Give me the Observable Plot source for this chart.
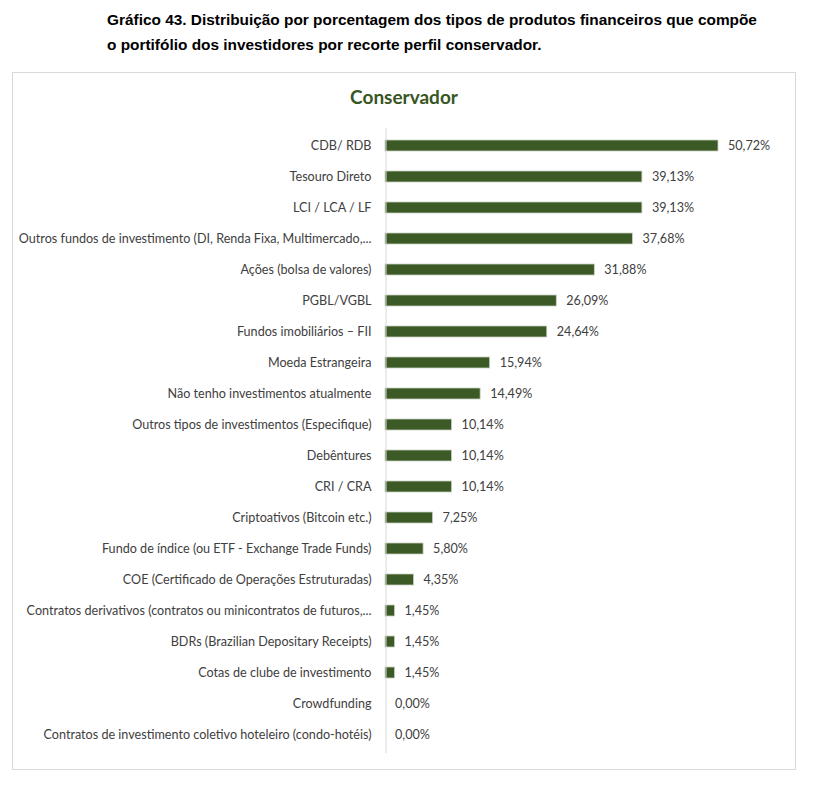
<!DOCTYPE html>
<html>
<head>
<meta charset="utf-8">
<script src="https://cdn.jsdelivr.net/npm/d3@7"></script>
<script src="https://cdn.jsdelivr.net/npm/@observablehq/plot@0.6"></script>
<style>
  html, body { margin: 0; padding: 0; background: #fff; }
  #page { position: relative; width: 824px; height: 794px; overflow: hidden; }
  #header { position: absolute; left: 107px; top: 7px; width: 710px;
    font-family: "Liberation Sans", Arial, sans-serif; font-weight: bold; font-size: 15.4px;
    line-height: 25px; color: #000; }
  #box { position: absolute; left: 12px; top: 72px; width: 782px; height: 696px;
    border: 1px solid #d9d9d9; box-sizing: content-box; }
  #ctitle { position: absolute; left: 12px; top: 85px; width: 784px; text-align: center;
    font-family: Lato, "Open Sans", sans-serif; font-weight: bold; font-size: 19px; color: #375623; }
  #chart { position: absolute; left: 0; top: 0; }
</style>
</head>
<body>
<div id="page">
  <div id="header">Gráfico 43. Distribuição por porcentagem dos tipos de produtos financeiros que compõe<br>o portifólio dos investidores por recorte perfil conservador.</div>
  <div id="box"></div>
  <div id="ctitle">Conservador</div>
  <div id="chart"></div>
</div>
<script>
const categories = [
  "CDB/ RDB",
  "Tesouro Direto",
  "LCI / LCA / LF",
  "Outros fundos de investimento (DI, Renda Fixa, Multimercado,...",
  "Ações (bolsa de valores)",
  "PGBL/VGBL",
  "Fundos imobiliários – FII",
  "Moeda Estrangeira",
  "Não tenho investimentos atualmente",
  "Outros tipos de investimentos (Especifique)",
  "Debêntures",
  "CRI / CRA",
  "Criptoativos (Bitcoin etc.)",
  "Fundo de índice (ou ETF - Exchange Trade Funds)",
  "COE (Certificado de Operações Estruturadas)",
  "Contratos derivativos (contratos ou minicontratos de futuros,...",
  "BDRs (Brazilian Depositary Receipts)",
  "Cotas de clube de investimento",
  "Crowdfunding",
  "Contratos de investimento coletivo hoteleiro (condo-hotéis)"
];
const values = [50.72, 39.13, 39.13, 37.68, 31.88, 26.09, 24.64, 15.94, 14.49, 10.14,
  10.14, 10.14, 7.25, 5.80, 4.35, 1.45, 1.45, 1.45, 0.00, 0.00];

const data = categories.map((c, i) => ({category: c, value: values[i]}));
const fmt = v => v.toFixed(2).replace(".", ",") + "%";

const chart = Plot.plot({
  width: 824,
  height: 794,
  marginTop: 128,
  marginBottom: 41,
  marginLeft: 385,
  marginRight: 106,
  style: {fontFamily: "Lato, 'Open Sans', sans-serif", fontSize: "12px", color: "#404040", background: "transparent"},
  x: {domain: [0, 50.72], axis: null},
  y: {domain: categories, paddingInner: 0.63, paddingOuter: 0.315, label: null},
  marks: [
    Plot.barX(data, {y: "category", x: "value", fill: "#3b5a26", stroke: "#c9cfc3", strokeWidth: 0.8}),
    Plot.ruleX([0], {stroke: "#d9d9d9", strokeWidth: 1, dx: 0.5}),
    Plot.axisY({tickSize: 0, tickPadding: 14, fontSize: 12.6, fill: "#404040", label: null}),
    Plot.text(data, {y: "category", x: "value", text: d => fmt(d.value), textAnchor: "start", dx: 9.5, fill: "#404040", fontSize: 12.6})
  ]
});
document.getElementById("chart").appendChild(chart);
</script>
</body>
</html>
